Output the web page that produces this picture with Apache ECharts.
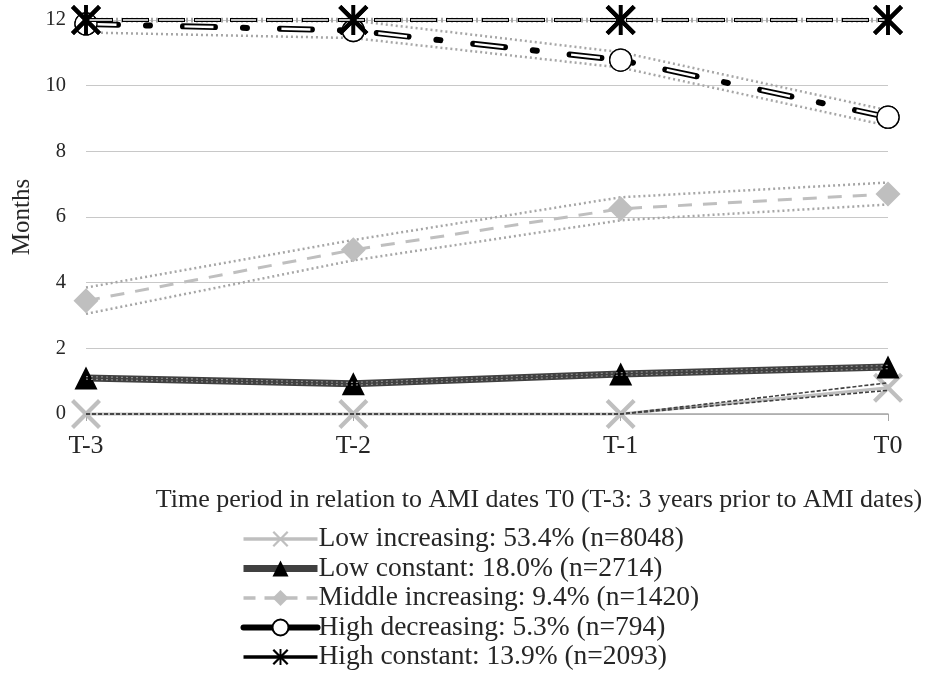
<!DOCTYPE html>
<html>
<head>
<meta charset="utf-8">
<script src="https://cdn.jsdelivr.net/npm/echarts@6/dist/echarts.min.js"></script>
<style>html,body{margin:0;padding:0;background:#fff}#c{width:930px;height:685px}</style>
</head>
<body>
<div id="c"></div>
<script>
const categories = ['T-3', 'T-2', 'T-1', 'T0'];
const yTicks = [0, 2, 4, 6, 8, 10, 12];
const seriesNames = [
  'Low increasing: 53.4% (n=8048)',
  'Low constant: 18.0% (n=2714)',
  'Middle increasing: 9.4% (n=1420)',
  'High decreasing: 5.3% (n=794)',
  'High constant: 13.9% (n=2093)'
];
const lowIncreasing = [0, 0, 0, 0.8];
const lowIncreasingUpper = [0, 0, 0, 0.95];
const lowIncreasingLower = [0, 0, 0, 0.72];
const lowConstant = [1.1, 0.92, 1.22, 1.43];
const lowConstantUpper = [1.14, 0.96, 1.26, 1.48];
const lowConstantLower = [1.06, 0.88, 1.18, 1.38];
const middleIncreasing = [3.45, 5.0, 6.25, 6.7];
const middleIncreasingUpper = [3.85, 5.3, 6.6, 7.05];
const middleIncreasingLower = [3.05, 4.68, 5.9, 6.38];
const highDecreasing = [11.88, 11.68, 10.78, 9.04];
const highDecreasingUpper = [12.0, 11.98, 11.02, 9.25];
const highDecreasingLower = [11.62, 11.45, 10.55, 8.78];
const highConstant = [12, 12, 12, 12];
const highConstantUpper = [12.03, 12.03, 12.03, 12.03];
const highConstantLower = [11.96, 11.96, 11.96, 11.96];

const FONT = '"Liberation Serif", "Times New Roman", serif';
const X_PATH = 'path://M0,10 L10,0 L50,40 L90,0 L100,10 L60,50 L100,90 L90,100 L50,60 L10,100 L0,90 L40,50 Z';
const AST_PATH = 'path://M0,10 L10,0 L50,40 L90,0 L100,10 L60,50 L100,90 L90,100 L50,60 L10,100 L0,90 L40,50 Z M44,0 L56,0 L56,100 L44,100 Z';

function ci(data, color, width, dash) {
  return {
    type: 'line', data: data, symbol: 'none', silent: true, clip: false,
    lineStyle: { color: color, width: width, type: dash || [2, 3] }, z: 2
  };
}

const legendLine = [
  { color: '#bfbfbf', width: 3.5, type: 'solid' },
  { color: '#404040', width: 7, type: 'solid' },
  { color: '#bfbfbf', width: 3.5, type: [12, 9] },
  { color: '#000', width: 6, type: 'solid' },
  { color: '#000', width: 3.5, type: 'solid' }
];

const option = {
  backgroundColor: '#fff',
  animation: false,
  grid: { left: 86, right: 42, top: 20, bottom: 271 },
  xAxis: {
    type: 'category', data: categories, boundaryGap: false,
    axisLine: { lineStyle: { color: '#a6a6a6', width: 1.5 } },
    axisTick: { show: true, length: 7, lineStyle: { color: '#a6a6a6' } },
    axisLabel: { fontFamily: FONT, fontSize: 26, color: '#262626', margin: 19 },
    name: 'Time period in relation to AMI dates T0 (T-3: 3 years prior to AMI dates)',
    nameLocation: 'middle', nameGap: 73,
    nameTextStyle: { fontFamily: FONT, fontSize: 26, color: '#262626', padding: [0, 0, 0, 104] }
  },
  yAxis: {
    type: 'value', min: 0, max: 12, interval: 2,
    axisLine: { show: false }, axisTick: { show: false },
    splitLine: { lineStyle: { color: '#c8c8c8', width: 1.2 } },
    axisLabel: { fontFamily: FONT, fontSize: 20.5, color: '#262626', margin: 20,
      formatter: function (v) { return yTicks.indexOf(v) >= 0 ? String(v) : ''; } },
    name: 'Months', nameLocation: 'middle', nameGap: 50,
    nameTextStyle: { fontFamily: FONT, fontSize: 25, color: '#262626' }
  },
  legend: {
    orient: 'vertical', left: 235, top: 520,
    itemWidth: 74, itemHeight: 20, itemGap: 1.5,
    textStyle: { fontFamily: FONT, fontSize: 27.5, color: '#262626', padding: [0, 0, 0, -4] },
    data: seriesNames.map(function (n, i) { return { name: n, lineStyle: legendLine[i] }; })
  },
  series: [
    // Low increasing
    {
      name: seriesNames[0], type: 'line', data: lowIncreasing, clip: false,
      lineStyle: { color: '#bfbfbf', width: 3 },
      symbol: X_PATH, symbolSize: 30, itemStyle: { color: '#bfbfbf' }, z: 3
    },
    Object.assign(ci(lowIncreasingUpper, '#404040', 1.6, [4, 2]), { z: 4 }),
    Object.assign(ci(lowIncreasingLower, '#404040', 1.6, [4, 2]), { z: 4 }),
    // Low constant
    {
      name: seriesNames[1], type: 'line', data: lowConstant, clip: false,
      lineStyle: { color: '#404040', width: 7 },
      symbol: 'triangle', symbolSize: 23, itemStyle: { color: '#000' }, z: 3
    },
    Object.assign(ci(lowConstantUpper, '#8c8c8c', 1.2), { z: 4 }),
    Object.assign(ci(lowConstantLower, '#8c8c8c', 1.2), { z: 4 }),
    // Middle increasing
    ci(middleIncreasingUpper, '#a6a6a6', 2.5),
    ci(middleIncreasingLower, '#a6a6a6', 2.5),
    {
      name: seriesNames[2], type: 'line', data: middleIncreasing, clip: false,
      lineStyle: { color: '#bfbfbf', width: 3, type: [14, 11] },
      symbol: 'diamond', symbolSize: 25, itemStyle: { color: '#bfbfbf' }, z: 3
    },
    // High decreasing
    ci(highDecreasingUpper, '#a6a6a6', 2.5),
    ci(highDecreasingLower, '#a6a6a6', 2.5),
    {
      name: seriesNames[3], type: 'line', data: highDecreasing, clip: false,
      lineStyle: { color: '#000', width: 6, type: [32, 28, 4, 33], cap: 'round' },
      symbol: 'circle', symbolSize: 22,
      itemStyle: { color: '#fff', borderColor: '#000', borderWidth: 1.3 }, z: 3
    },
    {
      type: 'line', data: highDecreasing, clip: false, silent: true, symbol: 'none',
      lineStyle: { color: '#fff', width: 2.4, type: [29, 68], dashOffset: -1.5 }, z: 4
    },
    {
      type: 'line', data: highDecreasing, clip: false, silent: true,
      symbol: 'circle', symbolSize: 22, lineStyle: { width: 0, opacity: 0 },
      itemStyle: { color: '#fff', borderColor: '#000', borderWidth: 1.3 }, z: 5
    },
    // High constant
    ci(highConstantUpper, '#a6a6a6', 2.5),
    ci(highConstantLower, '#a6a6a6', 2.5),
    {
      name: seriesNames[4], type: 'line', data: highConstant, clip: false,
      lineStyle: { color: '#000', width: 4, type: [27, 9] },
      symbol: AST_PATH, symbolSize: 30, itemStyle: { color: '#000' }, z: 6
    },
    {
      type: 'line', data: highConstant, clip: false, silent: true, symbol: 'none',
      lineStyle: { color: '#fff', width: 1.6, type: [25, 11], dashOffset: -1 }, z: 7
    },
    {
      type: 'line', data: highConstant, clip: false, silent: true,
      symbol: AST_PATH, symbolSize: 30, lineStyle: { width: 0, opacity: 0 },
      itemStyle: { color: '#000' }, z: 8
    }
  ]
};
const chart = echarts.init(document.getElementById('c'), null, { renderer: 'canvas' });
chart.setOption(option);
</script>
</body>
</html>
